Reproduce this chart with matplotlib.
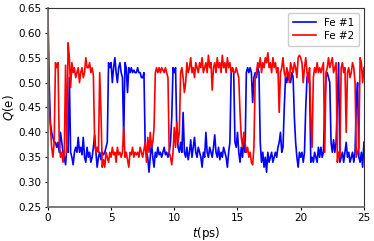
import numpy as np
import matplotlib
matplotlib.use('Agg')
from matplotlib import pyplot as plt

fe1 = [
    0.65, 0.50, 0.42, 0.40, 0.39, 0.38, 0.38, 0.37, 0.38, 0.36,
    0.40, 0.38, 0.36, 0.35, 0.335, 0.37, 0.36, 0.51, 0.36, 0.35,
    0.335, 0.36, 0.37, 0.36, 0.39, 0.36, 0.37, 0.355, 0.39, 0.35,
    0.34, 0.37, 0.35, 0.36, 0.34, 0.35, 0.37, 0.395, 0.36, 0.33,
    0.35, 0.36, 0.345, 0.36, 0.355, 0.36, 0.37, 0.38, 0.54, 0.53,
    0.54, 0.50, 0.53, 0.55, 0.52, 0.50, 0.53, 0.54, 0.52, 0.51,
    0.39, 0.54, 0.53, 0.48, 0.53, 0.52, 0.53, 0.52, 0.525, 0.52,
    0.52, 0.53, 0.52, 0.52, 0.51, 0.51, 0.52, 0.37, 0.36, 0.35,
    0.32, 0.35, 0.38, 0.35, 0.33, 0.36, 0.35, 0.37, 0.355, 0.36,
    0.35, 0.36, 0.37, 0.355, 0.36, 0.35, 0.36, 0.38, 0.43, 0.53,
    0.52, 0.53, 0.40, 0.37, 0.36, 0.38, 0.36, 0.44, 0.36, 0.35,
    0.37, 0.345, 0.36, 0.385, 0.35, 0.37, 0.39, 0.36, 0.35, 0.37,
    0.36, 0.35, 0.33, 0.36, 0.35, 0.40, 0.36, 0.35, 0.37, 0.36,
    0.35, 0.37, 0.395, 0.36, 0.35, 0.37, 0.345, 0.36, 0.35, 0.37,
    0.36, 0.35, 0.33, 0.36, 0.38, 0.52, 0.53, 0.52, 0.38, 0.37,
    0.40, 0.36, 0.34, 0.37, 0.35, 0.39, 0.36, 0.52, 0.53, 0.52,
    0.53, 0.52, 0.46, 0.51, 0.52, 0.51, 0.53, 0.52, 0.38, 0.34,
    0.36, 0.33, 0.35, 0.32, 0.36, 0.34, 0.35, 0.36, 0.34, 0.35,
    0.36, 0.35, 0.37, 0.38, 0.40, 0.36, 0.37, 0.45, 0.51, 0.50,
    0.52, 0.51, 0.50, 0.52, 0.51, 0.43, 0.38, 0.35, 0.33, 0.36,
    0.35, 0.36, 0.34, 0.36, 0.45, 0.51, 0.52, 0.50, 0.34, 0.35,
    0.34, 0.36, 0.35, 0.34, 0.37, 0.35, 0.37, 0.35, 0.36, 0.45,
    0.51, 0.52, 0.51, 0.50, 0.38, 0.36, 0.385, 0.36, 0.38, 0.46,
    0.54, 0.34, 0.35, 0.36, 0.34, 0.36, 0.38, 0.35, 0.36, 0.34,
    0.35, 0.36, 0.34, 0.36, 0.46, 0.50, 0.35, 0.34, 0.36, 0.33,
    0.38,
]
fe2 = [
    0.63, 0.45, 0.41, 0.37, 0.35, 0.38, 0.54, 0.53, 0.54, 0.38,
    0.35, 0.36, 0.34, 0.36, 0.535, 0.36, 0.58, 0.55, 0.49, 0.54,
    0.52, 0.53, 0.51, 0.52, 0.53, 0.50, 0.52, 0.53, 0.51, 0.52,
    0.55, 0.53, 0.53, 0.54, 0.52, 0.53, 0.515, 0.38, 0.36, 0.37,
    0.36, 0.52, 0.44, 0.33, 0.345, 0.33, 0.36, 0.35, 0.34, 0.36,
    0.35, 0.37, 0.355, 0.36, 0.34, 0.37, 0.355, 0.36, 0.35, 0.36,
    0.41, 0.35, 0.36, 0.345, 0.33, 0.36, 0.355, 0.37, 0.35, 0.36,
    0.355, 0.36, 0.35, 0.37, 0.36, 0.35, 0.365, 0.38, 0.34, 0.39,
    0.36, 0.40, 0.37, 0.38, 0.41, 0.52, 0.53, 0.52, 0.53, 0.52,
    0.53, 0.525, 0.52, 0.53, 0.52, 0.51, 0.36, 0.35, 0.335, 0.36,
    0.41, 0.37, 0.42, 0.38, 0.40, 0.52, 0.53, 0.51, 0.48, 0.50,
    0.54, 0.52, 0.53, 0.55, 0.52, 0.53, 0.51, 0.54, 0.53, 0.52,
    0.54, 0.53, 0.55, 0.52, 0.53, 0.54, 0.52, 0.555, 0.53, 0.54,
    0.485, 0.53, 0.54, 0.52, 0.55, 0.53, 0.54, 0.52, 0.555, 0.53,
    0.54, 0.52, 0.55, 0.53, 0.54, 0.52, 0.53, 0.52, 0.52, 0.53,
    0.52, 0.51, 0.44, 0.39, 0.37, 0.40, 0.38, 0.36, 0.37, 0.35,
    0.36, 0.34, 0.335, 0.37, 0.51, 0.52, 0.54, 0.53, 0.55, 0.52,
    0.54, 0.53, 0.55, 0.54, 0.56, 0.53, 0.54, 0.52, 0.55, 0.53,
    0.54, 0.52, 0.53, 0.44, 0.52, 0.53, 0.55, 0.52, 0.51, 0.53,
    0.52, 0.50, 0.54, 0.53, 0.52, 0.54, 0.53, 0.51, 0.55, 0.555,
    0.55, 0.54, 0.50, 0.53, 0.55, 0.52, 0.50, 0.53, 0.43, 0.37,
    0.51, 0.53, 0.52, 0.54, 0.52, 0.53, 0.52, 0.53, 0.54, 0.36,
    0.52, 0.53, 0.55, 0.53, 0.54, 0.55, 0.52, 0.53, 0.54, 0.34,
    0.36, 0.35, 0.53, 0.54, 0.52, 0.53, 0.40, 0.52, 0.53, 0.51,
    0.52, 0.54, 0.53, 0.50, 0.35, 0.36, 0.37, 0.55, 0.54, 0.50,
    0.53,
]
time_ps = np.arange(len(fe1)) * 0.1

plt.rcParams['font.family'] = ['DejaVu Sans']
fig = plt.figure(figsize=(3.74, 2.41), dpi=100)
ax = fig.add_axes([0.128, 0.141, 0.845, 0.826])

ax.plot(time_ps, fe1, color='blue', lw=1.2, label='Fe #1')
ax.plot(time_ps, fe2, color='red', lw=1.2, label='Fe #2')

ax.set_xlim(0, 25)
ax.set_ylim(0.25, 0.65)
ax.set_xticks([0, 5, 10, 15, 20, 25])
ax.set_yticks(np.arange(0.25, 0.66, 0.05))
ax.set_yticklabels(['{:.2f}'.format(v) for v in np.arange(0.25, 0.66, 0.05)])
ax.tick_params(labelsize=7.5, length=2.5, width=0.8, pad=2)
ax.set_xlabel('$t$(ps)', fontsize=8.5, labelpad=1)
ax.set_ylabel('$Q$(e)', fontsize=8.5, labelpad=2)

for side in ['left', 'bottom']:
    ax.spines[side].set_color('#707070')
    ax.spines[side].set_linewidth(1.3)
for side in ['top', 'right']:
    ax.spines[side].set_color('#333333')
    ax.spines[side].set_linewidth(0.8)

ax.legend(loc='upper right', fontsize=7.5, handlelength=2.2, borderpad=0.45,
          labelspacing=0.3, handletextpad=0.75, framealpha=1)

plt.savefig('out.png', dpi=100)
